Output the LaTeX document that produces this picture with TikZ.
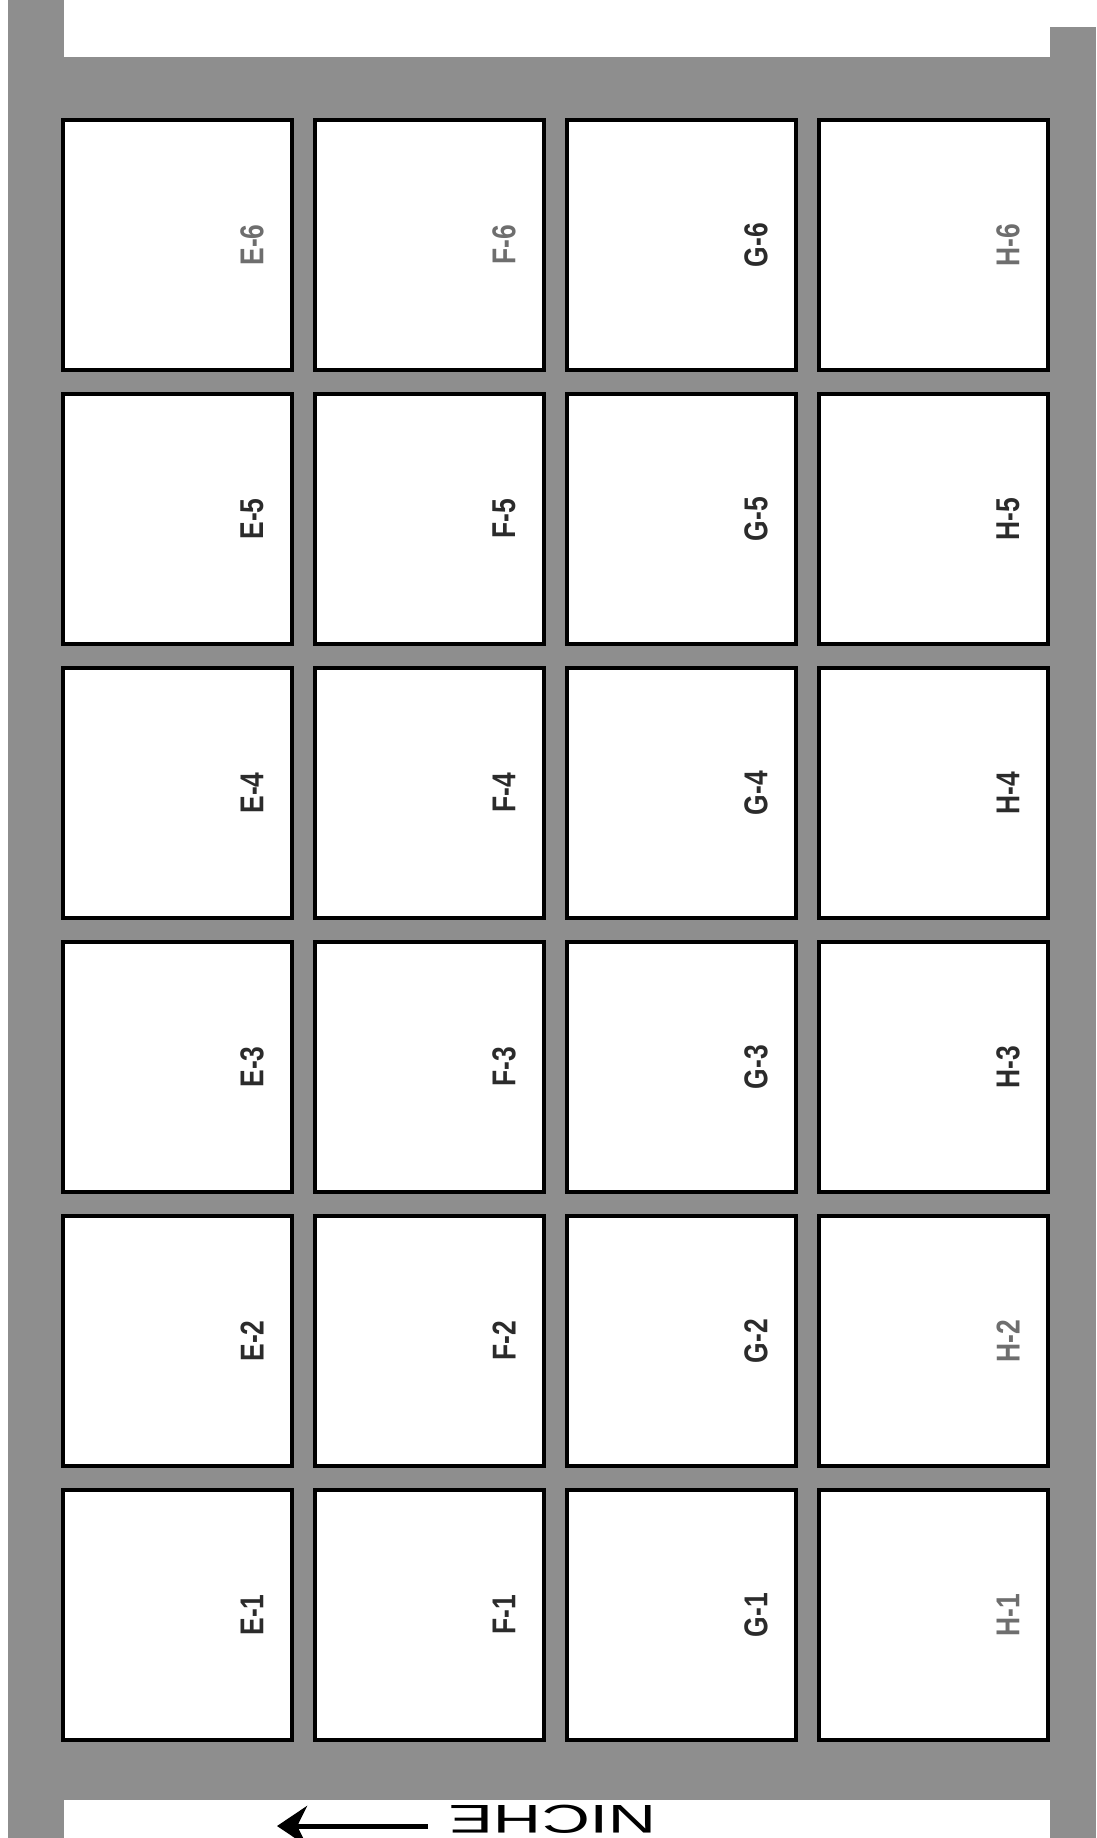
\documentclass[tikz,border=0pt]{standalone}
\usepackage{fontspec}
\setmainfont{Liberation Sans}
\usepackage{graphicx}
\usepackage{xcolor}
\usepackage{tikz}
\usetikzlibrary{arrows.meta}
\definecolor{framec}{HTML}{8E8E8E}
\definecolor{labelc}{HTML}{2B2B2B}
\definecolor{lightc}{HTML}{6E6E6E}
\newcommand{\cellname}[1]{\scalebox{0.8}[1]{#1}}
\tikzset{
  cell/.style={draw=black, fill=white, line width=0.08cm,
    minimum width=4.58cm, minimum height=5cm, inner sep=0pt},
  tag/.style={font=\bfseries\fontsize{18.8}{20}\selectfont, rotate=90,
    text=labelc, inner sep=0pt},
  % the scan prints a few of the names fainter
  tag E6/.style={text=lightc}, tag F6/.style={text=lightc},
  tag H6/.style={text=lightc}, tag H2/.style={text=lightc},
  tag H1/.style={text=lightc},
  hand/.style={font=\fontsize{38}{40}\selectfont, rotate=180,
    anchor=base, inner sep=0pt},
  >=Stealth}

\begin{document}
\begin{tikzpicture}[x=0.02cm, y=-0.02cm]
  \useasboundingbox (0,0) rectangle (1096,1838);
  \clip (0,0) rectangle (1096,1838);
  % ---- the grey frame, its two side posts running past top and bottom
  \fill[framec] (8,57) rectangle (1096,1800);
  \fill[framec] (8,0) rectangle (64,1838);
  \fill[framec] (1050,27) rectangle (1096,1838);
  % ---- four columns E..H, six rows, row 1 at the bottom
  \foreach \col [count=\i from 0] in {E,F,G,H} {
    \foreach \row in {1,...,6} {
      \node[cell] (\col\row) at ({177.5+252*\i}, {245+(6-\row)*274}) {};
      \node[tag, tag \col\row/.try] at ([xshift=-0.84cm]\col\row.east)
        {\cellname{\col-\row}};
    }
  }
  % ---- the handwritten note under the frame, upside down
  \node[hand] (niche) at (553,1805) {\scalebox{1}[0.6]{NICHE}};
  \coordinate (tail) at (428,1826);
  \coordinate (tip) at (277,1826);
  \draw[->, line width=0.1cm, >={Stealth[length=0.6cm, width=0.8cm]}]
    (tail) -- (tip);
\end{tikzpicture}
\end{document}
